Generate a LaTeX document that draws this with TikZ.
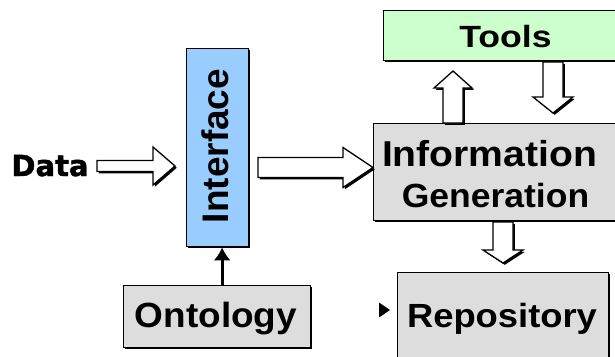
\documentclass[tikz,border=0pt]{standalone}
\usepackage{fontspec}
\newfontfamily\arialf{Liberation Sans}
\newfontfamily\dejaf{DejaVu Sans}[BoldFeatures={FakeBold=1.5}]
\usetikzlibrary{shadows,calc,arrows.meta}
\definecolor{ifblue}{RGB}{153,204,255}
\definecolor{toolgreen}{RGB}{204,255,204}
\definecolor{boxgray}{RGB}{221,221,221}
\tikzset{
  shadowed/.style={drop shadow={shadow xshift=1.8pt, shadow yshift=-1.8pt, opacity=1, fill=black}},
  box/.style={draw=black, line width=1.3pt, inner sep=0pt, anchor=north west, shadowed},
  barrow/.style={draw=black, line width=1.3pt, fill=white, line join=miter, shadowed},
  lbl/.style={inner sep=0pt, anchor=base, text=black},
  thinarrow/.style={line width=3pt, -{Latex[length=13pt,width=17pt]}},
}
\newcommand\harrow[5]{\draw[barrow] let \p1=(#1), \p2=(#2) in
  (\x1,{\y1+#3}) -- ({\x2-#5},{\y1+#3}) -- ({\x2-#5},{\y1+#4}) -- (\x2,\y1)
  -- ({\x2-#5},{\y1-#4}) -- ({\x2-#5},{\y1-#3}) -- (\x1,{\y1-#3}) -- cycle;}
\newcommand\varrow[5]{\draw[barrow] let \p1=(#1), \p2=(#2) in
  ({\x1-#3},\y1) -- ({\x1-#3},{\y2+(#5)}) -- ({\x1-#4},{\y2+(#5)}) -- (\x1,\y2)
  -- ({\x1+#4},{\y2+(#5)}) -- ({\x1+#3},{\y2+(#5)}) -- ({\x1+#3},\y1) -- cycle;}
\begin{document}
\begin{tikzpicture}[x=1pt,y=-1pt]
\clip (0,0) rectangle (615,356);
\fill[white] (0,0) rectangle (615,356);
% boxes
\node[box, fill=ifblue, minimum width=62pt, minimum height=198pt] (iface) at (186,48) {};
\node[box, fill=toolgreen, minimum width=250pt, minimum height=50pt] (tools) at (383,10) {};
\node[box, fill=boxgray, minimum width=260pt, minimum height=97pt] (info) at (373,123) {};
\node[box, fill=boxgray, minimum width=211pt, minimum height=110pt] (repo) at (397,272) {};
\node[box, fill=boxgray, minimum width=187pt, minimum height=62pt] (onto) at (123,285) {};
% labels
\node[lbl, font=\dejaf\bfseries\fontsize{29}{34}\selectfont] (data) at (50,176) {Data};
\node[lbl, rotate=90, font=\arialf\bfseries\fontsize{37}{44}\selectfont] (ifacetxt) at (228,146) {Interface};
\node[lbl, font=\arialf\bfseries\fontsize{30.7}{36}\selectfont] (toolstxt) at (505.5,47) {\scalebox{1.16}[1]{Tools}};
\node[lbl, font=\arialf\bfseries\fontsize{36}{42}\selectfont] (infotxt) at (489.5,166) {\scalebox{1.086}[1]{Information}};
\node[lbl, font=\arialf\bfseries\fontsize{33.5}{40}\selectfont] (gentxt) at (495.5,207) {\scalebox{1.06}[1]{Generation}};
\node[lbl, font=\arialf\bfseries\fontsize{35}{42}\selectfont] (ontotxt) at (216,327) {\scalebox{1.055}[1]{Ontology}};
\node[lbl, font=\arialf\bfseries\fontsize{33.5}{40}\selectfont] (repotxt) at (502,327) {\scalebox{1.085}[1]{Repository}};
% block arrow end points
\coordinate (a1s) at (97,166);   \coordinate (a1e) at (175,166);
\coordinate (a2s) at (258,167.5); \coordinate (a2e) at (info.west |- a2s);
\coordinate (a3s) at (453,123);  \coordinate (a3e) at (453,71);
\coordinate (a4s) at (553,62);   \coordinate (a4e) at (553,113);
\coordinate (a5s) at (503,222);  \coordinate (a5e) at (503,263);
\harrow{a1s}{a1e}{5.5pt}{19pt}{22pt}
\harrow{a2s}{a2e}{10pt}{20pt}{30pt}
\varrow{a3s}{a3e}{10pt}{19pt}{-17pt}
\varrow{a4s}{a4e}{10pt}{20pt}{16pt}
\varrow{a5s}{a5e}{10pt}{20pt}{13pt}
% ontology -> interface
\coordinate (ol) at ($(onto.north)+(5,0)$);
\draw[thinarrow] (ol) -- (ol |- iface.south);
% small arrowhead left of repository
\coordinate (rt) at (390,310);
\fill[black] (rt) -- ++(-11,-7.5) -- ++(0,15) -- cycle;
\end{tikzpicture}
\end{document}
